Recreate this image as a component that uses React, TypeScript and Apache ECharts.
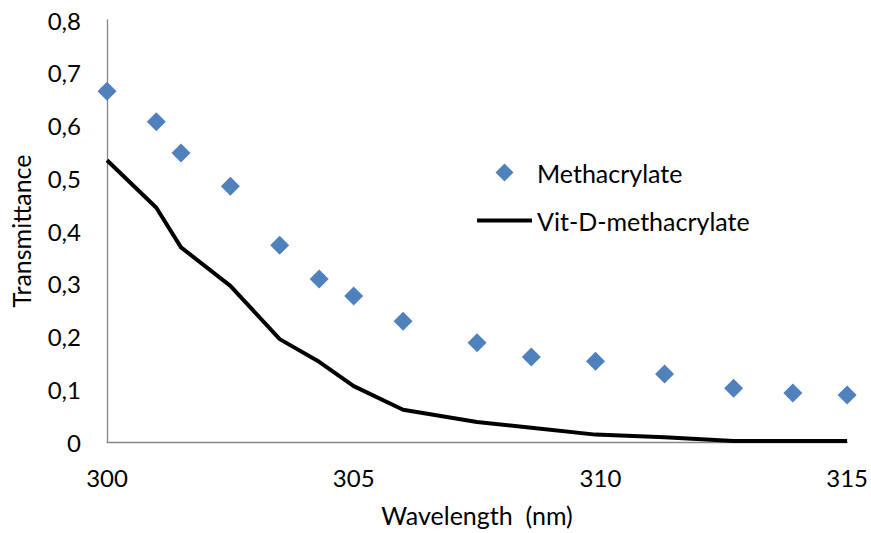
import React, { useEffect, useRef } from "react";
import * as echarts from "echarts";

const wavelengths = [300, 301, 301.5, 302.5, 303.5, 304.3, 305, 306, 307.5, 308.6, 309.9, 311.3, 312.7, 313.9, 315];
const methacrylate = [0.665, 0.607, 0.548, 0.485, 0.373, 0.309, 0.277, 0.229, 0.188, 0.161, 0.153, 0.129, 0.102, 0.093, 0.089];
const vitDMethacrylate = [0.534, 0.444, 0.369, 0.296, 0.195, 0.152, 0.106, 0.061, 0.038, 0.027, 0.014, 0.009, 0.002, 0.002, 0.002];
const seriesNames = ["Methacrylate", "Vit-D-methacrylate"];
const xAxisTitle = "Wavelength  (nm)";
const yAxisTitle = "Transmittance";

const FONT = "Lato";

export default function App() {
  const ref = useRef<HTMLDivElement>(null);
  useEffect(() => {
    if (!ref.current) return;
    const chart = echarts.init(ref.current, undefined, { renderer: "svg" });
    const pairs = (ys: number[]) => wavelengths.map((x, i) => [x, ys[i]]);
    chart.setOption({
      animation: false,
      backgroundColor: "#ffffff",
      textStyle: { fontFamily: FONT },
      grid: { left: 104.3, right: 20, top: 20, bottom: 91, containLabel: false },
      legend: {
        orient: "vertical",
        left: 472,
        top: 155,
        itemWidth: 55,
        itemHeight: 18,
        itemGap: 23,
        symbolKeepAspect: true,
        textStyle: { fontFamily: FONT, fontSize: 25, color: "#000" },
        data: [
          { name: seriesNames[0], icon: "path://M1,0 L2,1 L1,2 L0,1 Z", itemStyle: { color: "#4f81bd", opacity: 1 } },
          { name: seriesNames[1], icon: "path://M0,0 L55,0 L55,4 L0,4 Z", itemStyle: { color: "#000" } },
        ],
      },
      xAxis: {
        type: "value",
        min: 300,
        max: 315,
        interval: 5,
        name: xAxisTitle,
        nameLocation: "middle",
        nameGap: 60,
        nameTextStyle: { fontFamily: FONT, fontSize: 25, color: "#000" },
        axisLine: { show: true, lineStyle: { color: "#868686", width: 1.3 } },
        axisTick: { show: false },
        splitLine: { show: false },
        axisLabel: { fontFamily: FONT, fontSize: 24, color: "#000", margin: 23 },
      },
      yAxis: {
        type: "value",
        min: 0,
        max: 0.8,
        interval: 0.1,
        name: yAxisTitle,
        nameLocation: "middle",
        nameGap: 74,
        nameTextStyle: { fontFamily: FONT, fontSize: 25, color: "#000" },
        axisLine: { show: true, lineStyle: { color: "#868686", width: 1.3 } },
        axisTick: { show: false },
        splitLine: { show: false },
        axisLabel: {
          fontFamily: FONT,
          fontSize: 24,
          color: "#000",
          margin: 26,
          formatter: (v: number) => (v === 0 ? "0" : v.toFixed(1).replace(".", ",")),
        },
      },
      series: [
        {
          name: seriesNames[0],
          type: "scatter",
          data: pairs(methacrylate),
          symbol: "diamond",
          symbolSize: [19, 19],
          itemStyle: { color: "#4f81bd", opacity: 1 },
          z: 3,
        },
        {
          name: seriesNames[1],
          type: "line",
          data: pairs(vitDMethacrylate),
          symbol: "none",
          showSymbol: false,
          lineStyle: { color: "#000", width: 4 },
          itemStyle: { color: "#000" },
          z: 2,
        },
      ],
    });
    return () => chart.dispose();
  }, []);
  return (
    <div
      ref={ref}
      style={{ position: "fixed", left: 0, top: 0, width: 871, height: 533 }}
    />
  );
}
